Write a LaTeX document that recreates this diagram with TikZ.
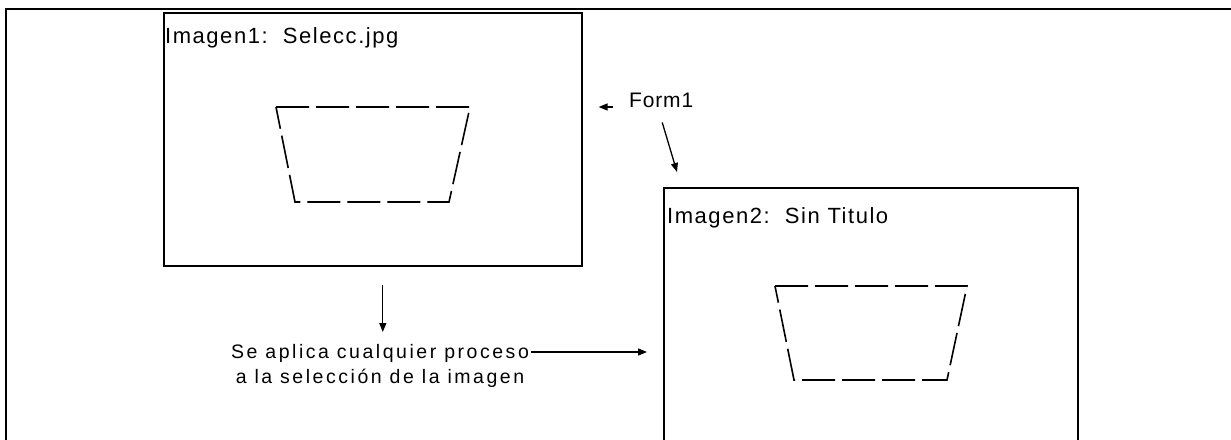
\documentclass[tikz,border=0pt]{standalone}
\usepackage{fontspec}
\setmainfont{Liberation Sans}
\usetikzlibrary{arrows.meta}

\begin{document}
\begin{tikzpicture}[x=1pt,y=-1pt,
  frameline/.style={draw=black, line width=1.8pt},
  imgbox/.style={draw=black, line width=1.6pt, rectangle, inner sep=0pt, anchor=north west},
  sel/.style={draw=black, line width=1.6pt, dash pattern=on 33pt off 7pt, line join=miter},
  boxtitle/.style={inner sep=0pt, anchor=base west, text=black,
    font=\fontsize{22}{26}\selectfont\addfontfeature{LetterSpace=7}},
  caption/.style={inner sep=0pt, text=black, align=center,
    font=\fontsize{19.5}{25}\selectfont\addfontfeature{LetterSpace=13}},
  formlabel/.style={inner sep=0pt, anchor=base west, text=black,
    font=\fontsize{21}{25}\selectfont\addfontfeature{LetterSpace=4}},
  arr/.style={draw=black, line width=1.3pt, -{Triangle[length=9pt,width=7pt]}},
]
\useasboundingbox (0,0) rectangle (1231,439);

% window frame (only its top and left edges are in view)
\draw[frameline] (6,470) -- (6,9) -- (1260,9);

% the two image windows
\node[imgbox, minimum width=418pt, minimum height=253pt] (box1) at (163,12) {};
\node[imgbox, minimum width=414pt, minimum height=280pt] (box2) at (663,187) {};

\node[boxtitle] (t1) at (165,43) {Imagen1:\ \ Selecc.jpg};
\node[boxtitle] (t2) at (667,223) {Imagen2:\ \ Sin Titulo};

% dashed selections
\draw[sel] (276,107) -- (470,107) -- (449,202) -- (295,202) -- cycle;
\draw[sel] (775,286) -- (967,286) -- (947,380) -- (794,380) -- cycle;

% form label and its pointers
\node[formlabel] (form1) at (629,107) {Form1};
\draw[arr] ([xshift=-16pt]form1.base west) -- ([xshift=16pt]form1.base west -| box1.east);
\path (form1.south) ++(1,15) coordinate (fdA);
\path (box2.north west) ++(14,-15) coordinate (fdB);
\draw[arr] (fdA) -- (fdB);

% process caption
\node[caption, anchor=north] (proc) at (380,344)
  {Se aplica cualquier proceso\\a la selección de la imagen};
\path (box1.south) ++(10,18) coordinate (dA);
\draw[arr, shorten >=12pt] (dA) -- (dA |- proc.north);
\path (proc.north east) ++(2,8) coordinate (pA);
\draw[arr, shorten >=16pt] (pA) -- (pA -| box2.west);

\end{tikzpicture}
\end{document}
